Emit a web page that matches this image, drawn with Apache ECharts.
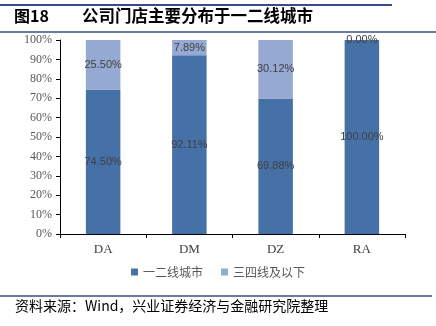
<!DOCTYPE html>
<html>
<head>
<meta charset="utf-8">
<script src="https://cdn.jsdelivr.net/npm/echarts@6/dist/echarts.min.js"></script>
<style>
  html, body { margin: 0; padding: 0; background: #fff; }
  #chart { width: 436px; height: 326px; }
</style>
</head>
<body>
<div id="chart"></div>
<script>
// Store distribution by city tier for each brand
const categories = ['DA', 'DM', 'DZ', 'RA'];
const tier12 = [74.50, 92.11, 69.88, 100.00];   // 一二线城市
const tier34 = [25.50, 7.89, 30.12, 0.00];      // 三四线及以下
const seriesNames = ['一二线城市', '三四线及以下'];
const yTicks = [0, 10, 20, 30, 40, 50, 60, 70, 80, 90, 100];

const chart = echarts.init(document.getElementById('chart'), null, { renderer: 'canvas' });

const labelStyle = {
  show: true,
  position: 'inside',
  color: '#404040',
  fontFamily: 'Liberation Sans, Arial, sans-serif',
  fontSize: 11,
  formatter: p => p.value.toFixed(2) + '%'
};

chart.setOption({
  animation: false,
  backgroundColor: '#ffffff',
  grid: { left: 60, right: 31, top: 40, bottom: 92, containLabel: false },
  legend: {
    bottom: 43,
    left: 'center',
    itemWidth: 7,
    itemHeight: 7,
    itemGap: 18,
    icon: 'rect',
    textStyle: { color: '#595959', fontSize: 12, fontFamily: 'Noto Sans CJK SC' },
    data: seriesNames
  },
  xAxis: {
    type: 'category',
    data: categories,
    axisLine: { lineStyle: { color: '#000', width: 1 } },
    axisTick: { show: true, length: 4, lineStyle: { color: '#000' } },
    axisLabel: { color: '#404040', fontSize: 13, fontFamily: 'Liberation Serif, Times New Roman, serif', margin: 9 }
  },
  yAxis: {
    type: 'value',
    min: 0,
    max: 100,
    interval: 10,
    axisLine: { show: true, lineStyle: { color: '#000', width: 1 } },
    axisTick: { show: true, length: 4, lineStyle: { color: '#000' } },
    splitLine: { show: false },
    axisLabel: {
      color: '#595959',
      fontSize: 12,
      fontFamily: 'Liberation Serif, Times New Roman, serif',
      margin: 8,
      formatter: v => (yTicks.includes(v) ? v + '%' : '')
    }
  },
  series: [
    {
      name: seriesNames[0],
      type: 'bar',
      stack: 'total',
      barWidth: '40%',
      data: tier12,
      itemStyle: { color: '#4571A7' },
      label: labelStyle
    },
    {
      name: seriesNames[1],
      type: 'bar',
      stack: 'total',
      barWidth: '40%',
      data: tier34,
      itemStyle: { color: '#95A9D3' },
      label: labelStyle
    }
  ],
  graphic: [
    { type: 'line', shape: { x1: 0, y1: 5, x2: 392, y2: 5 }, style: { stroke: '#3c4a8c', lineWidth: 2 } },
    { type: 'text', left: 14, top: 8, style: { text: '图18', font: 'bold 16px "Noto Sans CJK SC", sans-serif', fill: '#000' } },
    { type: 'text', left: 82, top: 7, style: { text: '公司门店主要分布于一二线城市', font: 'bold 16.5px "Noto Sans CJK SC", sans-serif', fill: '#000' } },
    { type: 'line', shape: { x1: 0, y1: 32, x2: 436, y2: 32 }, style: { stroke: '#3c4a8c', lineWidth: 1.5 } },
    { type: 'line', shape: { x1: 0, y1: 296, x2: 432, y2: 296 }, style: { stroke: '#3c4a8c', lineWidth: 1.5 } },
    { type: 'text', left: 15, top: 299, style: { text: '资料来源：Wind，兴业证券经济与金融研究院整理', font: '14px "Noto Sans CJK SC", sans-serif', fill: '#000' } }
  ]
});
</script>
</body>
</html>
